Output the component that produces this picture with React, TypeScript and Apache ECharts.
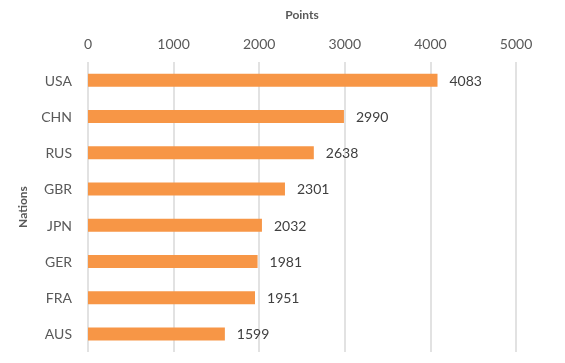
import React, { useEffect, useRef } from "react";
import * as echarts from "echarts";

const categories = ["USA", "CHN", "RUS", "GBR", "JPN", "GER", "FRA", "AUS"];
const points = [4083, 2990, 2638, 2301, 2032, 1981, 1951, 1599];
const xTicks = [0, 1000, 2000, 3000, 4000, 5000];

const FONT = "Lato, 'DejaVu Sans', sans-serif";

export default function App() {
  const ref = useRef<HTMLDivElement>(null);
  useEffect(() => {
    if (!ref.current) return;
    const chart = echarts.init(ref.current, undefined, { renderer: "svg" });
    chart.setOption({
      animation: false,
      textStyle: { fontFamily: FONT },
      grid: { left: 88, right: 49, top: 62, bottom: 11, containLabel: false },
      xAxis: {
        type: "value",
        position: "top",
        min: xTicks[0],
        max: xTicks[xTicks.length - 1],
        interval: 1000,
        name: "Points",
        nameLocation: "middle",
        nameGap: 42,
        nameTextStyle: { fontSize: 12, fontWeight: "bold", color: "#595959", fontFamily: FONT },
        axisLine: { show: false },
        axisTick: { show: false },
        axisLabel: {
          fontSize: 14,
          color: "#595959",
          margin: 12,
          fontFamily: FONT,
          formatter: (v: number) => String(v),
        },
        splitLine: { show: true, lineStyle: { color: "#d9d9d9", width: 1.5 } },
      },
      yAxis: {
        type: "category",
        inverse: true,
        data: categories,
        name: "Nations",
        nameLocation: "middle",
        nameGap: 60,
        nameRotate: 90,
        nameTextStyle: { fontSize: 12, fontWeight: "bold", color: "#595959", fontFamily: FONT },
        axisLine: { show: false },
        axisTick: { show: false },
        axisLabel: { fontSize: 14, color: "#595959", margin: 16, fontFamily: FONT },
      },
      series: [
        {
          type: "bar",
          data: points,
          barWidth: 13,
          itemStyle: { color: "#F79646" },
          label: {
            show: true,
            position: "right",
            distance: 12,
            fontSize: 14,
            color: "#404040",
            fontFamily: FONT,
          },
        },
      ],
    });
    return () => chart.dispose();
  }, []);
  return (
    <div
      ref={ref}
      style={{ position: "fixed", left: 0, top: 0, width: 565, height: 363 }}
    />
  );
}
